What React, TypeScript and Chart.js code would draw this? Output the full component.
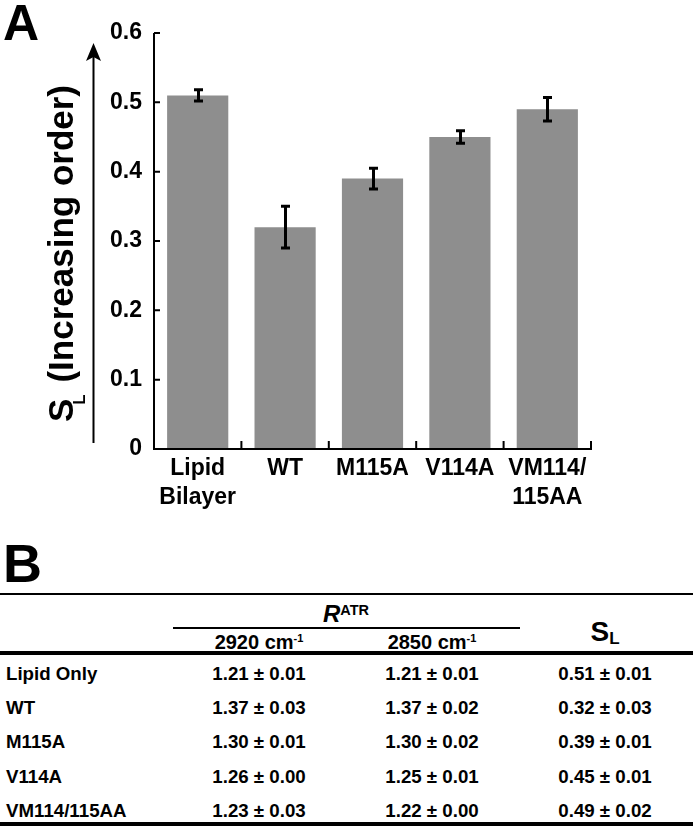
import React, { useEffect, useRef } from "react";
import { Chart, registerables } from "chart.js";

Chart.register(...registerables);

// ---- Panel A data ----
const categories: (string | string[])[] = [["Lipid", "Bilayer"], "WT", "M115A", "V114A", ["VM114/", "115AA"]];
const sValues = [0.51, 0.32, 0.39, 0.45, 0.49];
const sErrors = [0.008, 0.03, 0.015, 0.009, 0.017];
const yTickValues = [0, 0.1, 0.2, 0.3, 0.4, 0.5, 0.6];

// ---- Panel B data ----
const rowLabels = ["Lipid Only", "WT", "M115A", "V114A", "VM114/115AA"];
const r2920Mean = [1.21, 1.37, 1.3, 1.26, 1.23];
const r2920Err = [0.01, 0.03, 0.01, 0.0, 0.03];
const r2850Mean = [1.21, 1.37, 1.3, 1.25, 1.22];
const r2850Err = [0.01, 0.02, 0.02, 0.01, 0.0];
const slMean = [0.51, 0.32, 0.39, 0.45, 0.49];
const slErr = [0.01, 0.03, 0.01, 0.01, 0.02];

const FONT = '"Liberation Sans", Arial, Helvetica, sans-serif';

const fmt = (m: number, e: number) => `${m.toFixed(2)} \u00b1 ${e.toFixed(2)}`;

const axesPlugin = {
  id: "customAxes",
  afterDatasetsDraw(chart: any) {
    const { ctx, chartArea } = chart;
    const xs = chart.scales.x;
    const ys = chart.scales.y;
    const left = chartArea.left;
    const bottom = ys.getPixelForValue(0);
    const topY = ys.getPixelForValue(0.6);
    ctx.save();
    ctx.strokeStyle = "#000";
    ctx.lineWidth = 2;
    ctx.beginPath();
    ctx.moveTo(left, topY);
    ctx.lineTo(left, bottom + 1);
    ctx.moveTo(left - 1, bottom);
    ctx.lineTo(chartArea.right + 1, bottom);
    yTickValues.forEach((v) => {
      if (v === 0) return;
      const py = ys.getPixelForValue(v);
      ctx.moveTo(left, py);
      ctx.lineTo(left + 6, py);
    });
    const n = categories.length;
    const cw = n > 1 ? xs.getPixelForValue(1) - xs.getPixelForValue(0) : 0;
    for (let i = 0; i < n; i++) {
      const bx = xs.getPixelForValue(i) + cw / 2;
      ctx.moveTo(bx, bottom);
      ctx.lineTo(bx, bottom - 8);
    }
    ctx.stroke();
    ctx.restore();
  },
};

const errorBarPlugin = {
  id: "errorBars",
  afterDatasetsDraw(chart: any) {
    const { ctx } = chart;
    const ys = chart.scales.y;
    const meta = chart.getDatasetMeta(0);
    ctx.save();
    ctx.strokeStyle = "#000";
    ctx.lineWidth = 3;
    ctx.beginPath();
    meta.data.forEach((bar: any, i: number) => {
      const x = Math.round(bar.x) + 0.5;
      const t = ys.getPixelForValue(sValues[i] + sErrors[i]);
      const b = ys.getPixelForValue(sValues[i] - sErrors[i]);
      ctx.moveTo(x, t);
      ctx.lineTo(x, b);
      ctx.moveTo(x - 4.5, t);
      ctx.lineTo(x + 4.5, t);
      ctx.moveTo(x - 4.5, b);
      ctx.lineTo(x + 4.5, b);
    });
    ctx.stroke();
    ctx.restore();
  },
};

const yLabelPlugin = {
  id: "yLabel",
  afterDraw(chart: any) {
    const { ctx, chartArea } = chart;
    ctx.save();
    // arrow
    const ax = chartArea.left - 60.5;
    const aBottom = chartArea.bottom - 6;
    const aTip = chartArea.top + 10;
    ctx.strokeStyle = "#000";
    ctx.fillStyle = "#000";
    ctx.lineWidth = 2;
    ctx.beginPath();
    ctx.moveTo(ax, aBottom);
    ctx.lineTo(ax, aTip + 12);
    ctx.stroke();
    ctx.beginPath();
    ctx.moveTo(ax, aTip);
    ctx.lineTo(ax + 7.5, aTip + 18);
    ctx.lineTo(ax, aTip + 14);
    ctx.lineTo(ax - 7.5, aTip + 18);
    ctx.closePath();
    ctx.fill();

    // rotated label
    ctx.translate(chartArea.left - 81, chartArea.bottom - 27);
    ctx.rotate(-Math.PI / 2);
    ctx.textAlign = "left";
    ctx.textBaseline = "alphabetic";
    ctx.font = `bold 35px ${FONT}`;
    ctx.fillText("S", 0, 0);
    let x = ctx.measureText("S").width;
    ctx.font = `bold 17px ${FONT}`;
    ctx.fillText("L", x - 6, 12);
    x += ctx.measureText("L").width - 4;
    ctx.font = `bold 35px ${FONT}`;
    ctx.fillText(" (Increasing order)", x, 0);
    ctx.restore();
  },
};

function ChartPanel() {
  const ref = useRef<HTMLCanvasElement | null>(null);
  useEffect(() => {
    if (!ref.current) return;
    const chart = new Chart(ref.current, {
      type: "bar",
      data: {
        labels: categories as any,
        datasets: [
          {
            data: sValues,
            backgroundColor: "#8e8e8e",
            borderWidth: 0,
            barPercentage: 0.7,
            categoryPercentage: 1,
          },
        ],
      },
      options: {
        responsive: false,
        animation: false,
        devicePixelRatio: 1,
        layout: { padding: { left: 0, top: 33, right: 102, bottom: 0 } },
        plugins: { legend: { display: false }, tooltip: { enabled: false }, title: { display: false } },
        scales: {
          x: {
            grid: { display: false, drawTicks: false },
            border: { display: false },
            ticks: {
              color: "#000",
              font: { family: FONT, weight: "bold", size: 23, lineHeight: 1.26 },
              padding: 5,
              maxRotation: 0,
              minRotation: 0,
              autoSkip: false,
            },
            afterFit: (s: any) => {
              s.height = 81;
            },
          },
          y: {
            min: 0,
            max: 0.6,
            grid: { display: false, drawTicks: false },
            border: { display: false },
            afterBuildTicks: (s: any) => {
              s.ticks = yTickValues.map((v) => ({ value: v }));
            },
            ticks: {
              color: "#000",
              font: { family: FONT, weight: "bold", size: 23 },
              padding: 12,
              callback: (v: any) => (Number(v) === 0 ? "0" : Number(v).toFixed(1)),
            },
            afterFit: (s: any) => {
              s.width = 154;
            },
          },
        },
      } as any,
      plugins: [axesPlugin, errorBarPlugin, yLabelPlugin],
    });
    return () => chart.destroy();
  }, []);
  return <canvas ref={ref} width={693} height={530} style={{ position: "absolute", left: 0, top: 0, width: 693, height: 530 }} />;
}

const textBox = (cx: number, cy: number, h: number, align: "center" | "left" = "center", w = 200): React.CSSProperties => ({
  position: "absolute",
  left: align === "center" ? cx - w / 2 : cx,
  width: w,
  top: cy - h / 2,
  height: h,
  lineHeight: `${h}px`,
  textAlign: align,
  whiteSpace: "nowrap",
});

function TablePanel() {
  const colX = [6, 259, 432, 605];
  const rowY0 = 674;
  const rowStep = 34.2;
  const cellFont: React.CSSProperties = { fontFamily: FONT, fontWeight: "bold", fontSize: 18.7, color: "#000" };
  return (
    <>
      <div style={{ position: "absolute", left: 0, top: 593, width: 693, height: 2, background: "#000" }} />
      <div style={{ position: "absolute", left: 173, top: 627, width: 347, height: 2, background: "#000" }} />
      <div style={{ position: "absolute", left: 0, top: 651, width: 693, height: 4, background: "#000" }} />
      <div style={{ position: "absolute", left: 0, top: 822, width: 693, height: 4, background: "#000" }} />

      <div style={{ ...cellFont, ...textBox(346, 614, 30) }}>
        <span style={{ fontStyle: "italic", fontSize: 24 }}>R</span>
        <span style={{ fontSize: 14.5, position: "relative", top: -7, lineHeight: 1 }}>ATR</span>
      </div>
      <div style={{ ...cellFont, fontSize: 20, ...textBox(colX[1], 642, 24) }}>
        2920 cm<span style={{ fontSize: 11, position: "relative", top: -7, lineHeight: 1 }}>-1</span>
      </div>
      <div style={{ ...cellFont, fontSize: 20, ...textBox(colX[2], 642, 24) }}>
        2850 cm<span style={{ fontSize: 11, position: "relative", top: -7, lineHeight: 1 }}>-1</span>
      </div>
      <div style={{ ...cellFont, ...textBox(colX[3], 632, 34) }}>
        <span style={{ fontSize: 28 }}>S</span>
        <span style={{ fontSize: 17, position: "relative", top: 3, lineHeight: 1 }}>L</span>
      </div>

      {rowLabels.map((lab, i) => {
        const cy = rowY0 + i * rowStep;
        return (
          <React.Fragment key={lab}>
            <div style={{ ...cellFont, ...textBox(colX[0], cy, 24, "left", 170) }}>{lab}</div>
            <div style={{ ...cellFont, ...textBox(colX[1], cy, 24) }}>{fmt(r2920Mean[i], r2920Err[i])}</div>
            <div style={{ ...cellFont, ...textBox(colX[2], cy, 24) }}>{fmt(r2850Mean[i], r2850Err[i])}</div>
            <div style={{ ...cellFont, ...textBox(colX[3], cy, 24) }}>{fmt(slMean[i], slErr[i])}</div>
          </React.Fragment>
        );
      })}
    </>
  );
}

export default function App() {
  return (
    <div style={{ position: "absolute", left: 0, top: 0, width: 693, height: 826, background: "#fff", overflow: "hidden" }}>
      <ChartPanel />
      <div style={{ position: "absolute", left: 3, top: 22.5 - 25, height: 50, lineHeight: "50px", fontFamily: FONT, fontWeight: "bold", fontSize: 50, color: "#000" }}>
        A
      </div>
      <div style={{ position: "absolute", left: 3, top: 562.5 - 28, height: 56, lineHeight: "56px", fontFamily: FONT, fontWeight: "bold", fontSize: 54, color: "#000" }}>
        B
      </div>
      <TablePanel />
    </div>
  );
}
